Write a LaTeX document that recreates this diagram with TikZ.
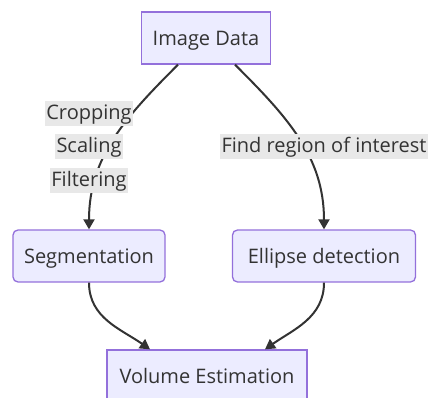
\documentclass[tikz,border=0pt]{standalone}
\usepackage{fontspec}
\setmainfont{Open Sans}
\usetikzlibrary{arrows.meta,positioning}
\definecolor{boxfill}{HTML}{ECECFF}
\definecolor{boxline}{HTML}{9370DB}
\definecolor{edgeline}{HTML}{333333}
\definecolor{lblfill}{HTML}{E8E8E8}
\newcommand{\lblline}[1]{{\fboxsep=1.5pt\colorbox{lblfill}{\rule[-5pt]{0pt}{22pt}#1}}}

\begin{document}
\begin{tikzpicture}[
    x=1pt, y=1pt,
    font=\fontsize{20}{24}\selectfont,
    block/.style={draw=boxline, fill=boxfill, line width=1.3pt, minimum height=52pt, text height=14.3pt, text depth=0pt, text=edgeline, align=center},
    roundblock/.style={block, rounded corners=5pt},
    arrow/.style={-{Triangle[length=10pt,width=11pt]}, line width=2pt, draw=edgeline},
    edgelbl/.style={text=edgeline, inner sep=0pt, align=center, font=\fontsize{20}{33.5}\selectfont}
]
\useasboundingbox (0,0) rectangle (434,-398);
\node[block, minimum width=129pt] (img) at (206,-38) {Image Data};
\node[roundblock, minimum width=152pt] (seg) at (89,-256) {Segmentation};
\node[roundblock, minimum width=183pt] (ell) at (324,-256) {Ellipse detection};
\node[block, minimum width=200pt] (vol) at (207,-376) {Volume Estimation};

\draw[arrow] ([xshift=-28pt]img.south) to[out=-135, in=90] (seg.north);
\draw[arrow] ([xshift=29pt]img.south) to[out=-45, in=90] (ell.north);
\draw[arrow] (seg.south) to[out=-90, in=145] ([xshift=-57pt]vol.north);
\draw[arrow] (ell.south) to[out=-90, in=35] ([xshift=58pt]vol.north);

\node[edgelbl] (prep) at (89,-147) {\lblline{Cropping}\\\lblline{Scaling}\\\lblline{Filtering}};
\node[edgelbl] (roi) at (324,-147) {\lblline{Find region of interest}};
\end{tikzpicture}
\end{document}
